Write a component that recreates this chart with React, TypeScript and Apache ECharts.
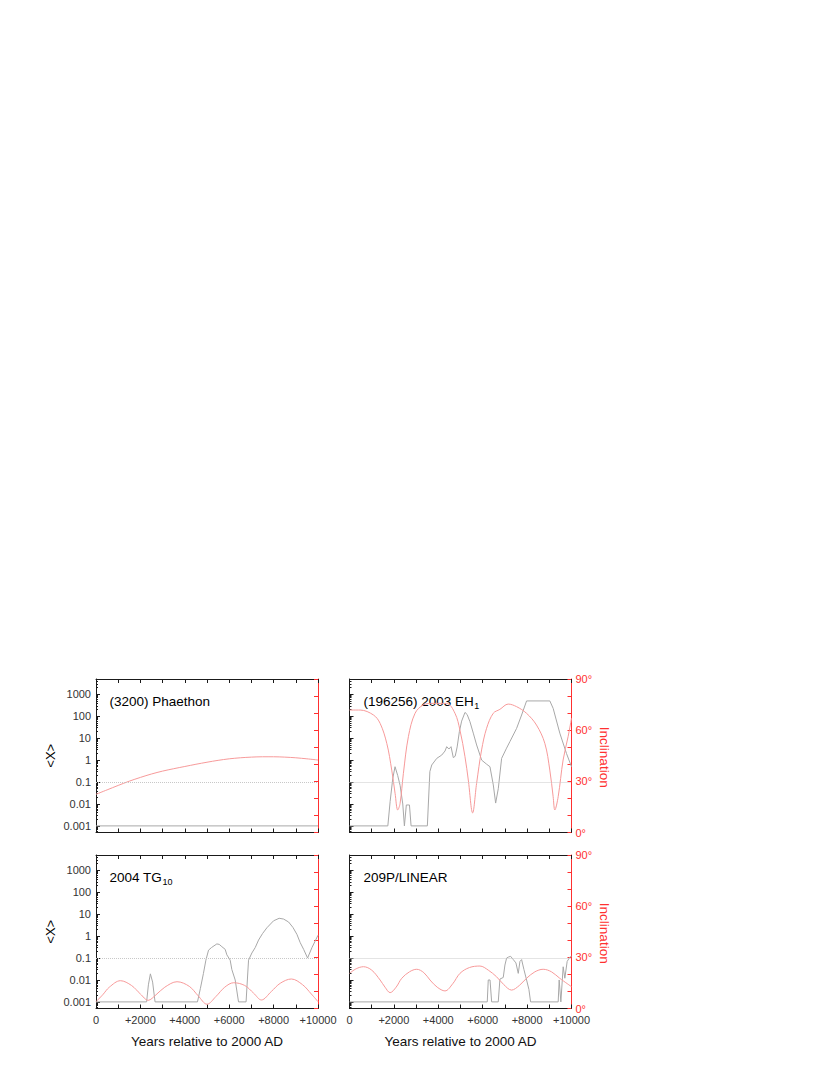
import React, { useEffect, useRef } from 'react';
import * as echarts from 'echarts';

const FONT = '"Liberation Sans", Arial, Helvetica, sans-serif';
const RED = '#ff3030';
const GRAY = '#a8a8a8';
const PINK = '#f79a9a';
const AXIS = '#1a1a1a';

// ---- tick labels ----
const xTickValues = [0, 2000, 4000, 6000, 8000, 10000];
const xTickLabels = ['0', '+2000', '+4000', '+6000', '+8000', '+10000'];
const logTickValues = [0.001, 0.01, 0.1, 1, 10, 100, 1000];
const logTickLabels = ['0.001', '0.01', '0.1', '1', '10', '100', '1000'];
const incTickValues = [0, 30, 60, 90];
const incTickLabels = ['0°', '30°', '60°', '90°'];

// ---- panel titles ----
const titles = ['(3200) Phaethon', '(196256) 2003 EH', '2004 TG', '209P/LINEAR'];
const titleSubs = ['', '1', '10', ''];

// ---- (3200) Phaethon ----
const phaethonXYears = [0, 10000];
const phaethonX = [0.001, 0.001];
const phaethonIncYears = [0, 500, 1000, 1500, 2000, 2500, 3000, 3500, 4000, 4500, 5000, 5500, 6000, 6500, 7000, 7500, 8000, 8500, 9000, 9500, 10000];
const phaethonInc = [22.4, 25.0, 27.6, 30.1, 32.3, 34.3, 36.0, 37.4, 38.7, 40.0, 41.2, 42.3, 43.2, 43.8, 44.2, 44.4, 44.4, 44.2, 43.8, 43.2, 42.5];

// ---- (196256) 2003 EH1 ----
const eh1XYears = [0, 1727, 1830, 1951, 2051, 2170, 2280, 2400, 2473, 2560, 2700, 2774, 3507, 3620, 3705, 3930, 4155, 4303, 4378, 4478, 4573, 4676, 4760, 4850, 4950, 5051, 5202, 5300, 5427, 5576, 5727, 5953, 6178, 6327, 6477, 6583, 6702, 6852, 7074, 7226, 7527, 7752, 7977, 9024, 9173, 9473, 9775, 10000];
const eh1X = [0.001, 0.001, 0.013, 0.15, 0.5, 0.2, 0.07, 0.01, 0.001, 0.009, 0.009, 0.001, 0.001, 0.3, 0.6, 1.2, 1.7, 2.6, 4.1, 3.2, 4.1, 1.3, 1.5, 4, 20, 60, 150, 120, 56, 17, 4.9, 1, 0.65, 0.5, 0.074, 0.011, 0.05, 1.2, 3.5, 7, 28, 114, 500, 500, 230, 17, 2, 0.5];
const eh1IncYears = [0, 480, 1079, 1379, 1679, 1903, 2053, 2173, 2278, 2428, 2653, 2953, 3327, 3777, 4376, 4751, 4976, 5201, 5351, 5546, 5725, 5950, 6175, 6475, 6775, 7149, 7524, 7974, 8423, 8798, 9023, 9173, 9249, 9400, 9622, 9847, 10000];
const eh1Inc = [71.8, 71.8, 68.9, 64, 52.3, 36.6, 23, 13.2, 17, 34.7, 56.2, 69.9, 74.8, 75.7, 75.7, 69.9, 60, 44.5, 30.8, 11.5, 28.8, 48.4, 61.1, 69.9, 72.2, 75.3, 73.8, 69.9, 63, 52.3, 36.6, 21, 13.2, 21, 42.5, 56.2, 67];

// ---- 2004 TG10 ----
const tg10XYears = [0, 2280, 2360, 2450, 2550, 2660, 4571, 4700, 4840, 4950, 5070, 5200, 5443, 5550, 5669, 5818, 5894, 6044, 6119, 6270, 6420, 6760, 6871, 7021, 7172, 7322, 7500, 7698, 7999, 8250, 8450, 8675, 8870, 9051, 9200, 9352, 9530, 9728, 10000];
const tg10X = [0.001, 0.001, 0.006, 0.019, 0.008, 0.001, 0.001, 0.004, 0.02, 0.08, 0.23, 0.3, 0.44, 0.42, 0.33, 0.25, 0.14, 0.08, 0.03, 0.01, 0.001, 0.001, 0.08, 0.17, 0.3, 0.66, 1.3, 2.4, 5, 6.5, 6, 4.4, 2.5, 1.2, 0.5, 0.25, 0.1, 0.3, 1.1];
const tg10IncYears = [0, 300, 600, 1100, 1600, 2000, 2350, 2700, 3100, 3650, 4200, 4600, 5000, 5400, 5800, 6200, 6700, 7100, 7450, 7900, 8300, 8800, 9300, 9700, 10000];
const tg10Inc = [4.0, 8, 12.5, 16.3, 13.5, 8.5, 4.8, 8, 12.5, 15.7, 13, 7.5, 2.5, 7, 12.5, 15.1, 13.5, 9, 5, 10, 14.8, 17.3, 14, 8.5, 4];

// ---- 209P/LINEAR ----
const linearXYears = [0, 6205, 6250, 6330, 6403, 6700, 6776, 6925, 7001, 7077, 7152, 7257, 7377, 7497, 7602, 7677, 7752, 7857, 7977, 8082, 8157, 9400, 9445, 9520, 9625, 9700, 9805, 9925, 10000];
const linearX = [0.001, 0.001, 0.01, 0.01, 0.001, 0.001, 0.011, 0.013, 0.048, 0.1, 0.11, 0.12, 0.085, 0.06, 0.02, 0.07, 0.085, 0.03, 0.01, 0.0037, 0.001, 0.001, 0.01, 0.001, 0.04, 0.012, 0.07, 0.11, 0.12];
const linearIncYears = [0, 300, 630, 1000, 1379, 1600, 1829, 2100, 2353, 2700, 3028, 3350, 3627, 3950, 4301, 4650, 4976, 5400, 5875, 6250, 6625, 6950, 7299, 7650, 7974, 8350, 8723, 9100, 9472, 10000];
const linearInc = [20.6, 23.3, 24.5, 22.5, 16.7, 12.5, 9.3, 12.5, 17.7, 21.5, 23, 21, 16.7, 12.5, 10.3, 14.5, 20.6, 24, 24.9, 22.5, 18.6, 14, 10.8, 13.5, 17.7, 21.5, 23, 21.5, 17.7, 12.8];

const zip = (xs: number[], ys: number[]) => xs.map((x, i) => [x, ys[i]]);

const GRID_W = 222;
const GRID_H = 153.5;
const panels = [
  { left: 96, top: 679, xLabels: false, leftLabels: true, rightLabels: false, gray: zip(phaethonXYears, phaethonX), pink: zip(phaethonIncYears, phaethonInc) },
  { left: 349.5, top: 679, xLabels: false, leftLabels: false, rightLabels: true, gray: zip(eh1XYears, eh1X), pink: zip(eh1IncYears, eh1Inc) },
  { left: 96, top: 855, xLabels: true, leftLabels: true, rightLabels: false, gray: zip(tg10XYears, tg10X), pink: zip(tg10IncYears, tg10Inc) },
  { left: 349.5, top: 855, xLabels: true, leftLabels: false, rightLabels: true, gray: zip(linearXYears, linearX), pink: zip(linearIncYears, linearInc) },
];

function measure(text: string, size: number): number {
  const c = document.createElement('canvas').getContext('2d');
  if (!c) return text.length * size * 0.55;
  c.font = `${size}px ${FONT}`;
  return c.measureText(text).width;
}

export default function App() {
  const ref = useRef<HTMLDivElement>(null);
  useEffect(() => {
    if (!ref.current) return;
    const chart = echarts.init(ref.current, undefined, { renderer: 'svg' });

    const grid: any[] = [];
    const xAxis: any[] = [];
    const yAxis: any[] = [];
    const series: any[] = [];
    const graphic: any[] = [];

    panels.forEach((p, i) => {
      grid.push({ left: p.left, top: p.top, width: GRID_W, height: GRID_H, containLabel: false });
      const xBase = {
        type: 'value', gridIndex: i, min: 0, max: 10000, interval: 1000,
        axisLine: { show: true, onZero: false, lineStyle: { color: AXIS, width: 1 } },
        axisTick: { show: true, inside: true, length: 4, lineStyle: { color: AXIS } },
        splitLine: { show: false },
      };
      xAxis.push({
        ...xBase, position: 'bottom',
        axisLabel: {
          show: p.xLabels, margin: 6, fontSize: 11, color: '#333', fontFamily: FONT,
          formatter: (v: number) => { const k = xTickValues.indexOf(v); return k >= 0 ? xTickLabels[k] : ''; },
        },
      });
      xAxis.push({ ...xBase, position: 'top', axisLabel: { show: false } });

      yAxis.push({
        type: 'log', logBase: 10, gridIndex: i, min: 0.0005, max: 5000, position: 'left',
        axisLine: { show: true, onZero: false, lineStyle: { color: AXIS, width: 1 } },
        axisTick: { show: true, inside: true, length: 4, lineStyle: { color: AXIS } },
        minorTick: { show: true, splitNumber: 9, length: 2, lineStyle: { color: AXIS } },
        splitLine: { show: false },
        minorSplitLine: { show: false },
        axisLabel: {
          show: p.leftLabels, margin: 5, fontSize: 11, color: '#333', fontFamily: FONT,
          showMinLabel: false, showMaxLabel: false,
          formatter: (v: number) => {
            for (let k = 0; k < logTickValues.length; k++) {
              if (Math.abs(Math.log10(v) - Math.log10(logTickValues[k])) < 1e-6) return logTickLabels[k];
            }
            return '';
          },
        },
      });
      yAxis.push({
        type: 'value', gridIndex: i, min: 0, max: 90, interval: 10, position: 'right',
        axisLine: { show: true, onZero: false, lineStyle: { color: RED, width: 1 } },
        axisTick: { show: true, inside: true, length: 4, lineStyle: { color: RED } },
        splitLine: { show: false },
        axisLabel: {
          show: p.rightLabels, margin: 4, fontSize: 11, color: RED, fontFamily: FONT,
          formatter: (v: number) => { const k = incTickValues.indexOf(v); return k >= 0 ? incTickLabels[k] : ''; },
        },
      });

      series.push({
        type: 'line', xAxisIndex: 2 * i, yAxisIndex: 2 * i, data: p.gray,
        showSymbol: false, symbol: 'none', lineStyle: { color: GRAY, width: 1 }, z: 3,
        markLine: {
          silent: true, symbol: ['none', 'none'], label: { show: false },
          lineStyle: { type: 'dotted', color: '#c8c8c8', width: 1 },
          data: [{ yAxis: 0.1 }],
        },
      });
      series.push({
        type: 'line', xAxisIndex: 2 * i, yAxisIndex: 2 * i + 1, data: p.pink,
        showSymbol: false, symbol: 'none', smooth: 0.35, lineStyle: { color: PINK, width: 1 }, z: 4,
      });

      // titles
      const tx = p.left + (i % 2 === 0 ? 13.5 : 14);
      const ty = p.top + 22;
      graphic.push({
        type: 'text', x: tx, y: ty,
        style: { text: titles[i], font: `13.5px ${FONT}`, fill: '#000', align: 'left', verticalAlign: 'middle' },
      });
      if (titleSubs[i]) {
        const w = measure(titles[i], 13.5);
        graphic.push({
          type: 'text', x: tx + w + 0.5, y: ty + 4.5,
          style: { text: titleSubs[i], font: `9px ${FONT}`, fill: '#000', align: 'left', verticalAlign: 'middle' },
        });
      }
      const cy = p.top + GRID_H / 2;
      if (p.leftLabels) {
        graphic.push({
          type: 'text', x: 50, y: cy, rotation: Math.PI / 2,
          style: { text: '<X>', font: `13px ${FONT}`, fill: '#000', align: 'center', verticalAlign: 'middle' },
        });
      }
      if (p.rightLabels) {
        graphic.push({
          type: 'text', x: 604, y: cy + 1.5, rotation: -Math.PI / 2,
          style: { text: 'Inclination', font: `13.5px ${FONT}`, fill: RED, align: 'center', verticalAlign: 'middle' },
        });
      }
      if (p.xLabels) {
        graphic.push({
          type: 'text', x: p.left + GRID_W / 2, y: 1041,
          style: { text: 'Years relative to 2000 AD', font: `13.5px ${FONT}`, fill: '#111', align: 'center', verticalAlign: 'middle' },
        });
      }
    });

    chart.setOption({
      animation: false,
      backgroundColor: '#fff',
      textStyle: { fontFamily: FONT },
      grid, xAxis, yAxis, series, graphic,
    });
    return () => chart.dispose();
  }, []);

  return <div ref={ref} style={{ position: 'absolute', left: 0, top: 0, width: 830, height: 1075 }} />;
}
